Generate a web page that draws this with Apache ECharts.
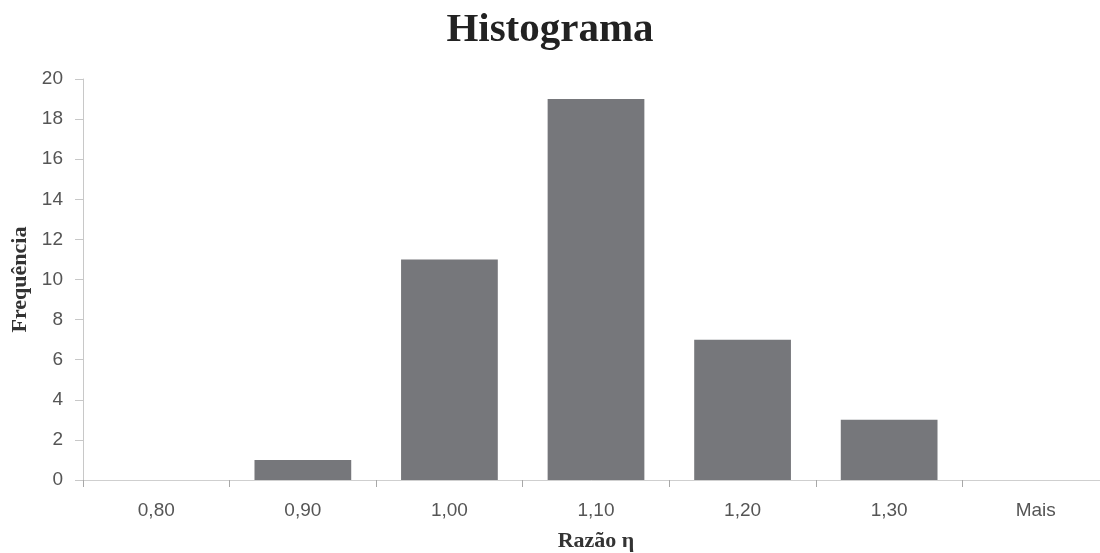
<!DOCTYPE html>
<html><head><meta charset="utf-8">
<script src="https://cdn.jsdelivr.net/npm/echarts@6/dist/echarts.min.js"></script>
<style>html,body{margin:0;padding:0;background:#fff}#c{width:1100px;height:553px}</style>
</head><body><div id="c"></div>
<script>
const categories = ['0,80','0,90','1,00','1,10','1,20','1,30','Mais'];
const frequencies = [0, 1, 11, 19, 7, 3, 0];
const yTicks = {min: 0, max: 20, interval: 2};
const titleText = 'Histograma';
const xName = 'Razão η';
const yName = 'Frequência';

const chart = echarts.init(document.getElementById('c'));
chart.setOption({
  backgroundColor: '#fff',
  animation: false,
  title: {
    text: titleText, left: 'center', top: 5,
    textStyle: {fontFamily: 'Liberation Serif', fontSize: 41, fontWeight: 'bold', color: '#222'}
  },
  grid: {left: 83, width: 1026, top: 79, height: 401, containLabel: false, outerBoundsMode: 'none'},
  xAxis: {
    type: 'category', data: categories,
    name: xName, nameLocation: 'middle', nameGap: 50,
    nameTextStyle: {fontFamily: 'Liberation Serif', fontSize: 22, fontWeight: 'bold', color: '#333'},
    axisLine: {lineStyle: {color: '#cfcfcf', width: 1}},
    axisTick: {show: true, length: 7, lineStyle: {color: '#a8a8a8'}},
    axisLabel: {fontFamily: 'Liberation Sans', fontSize: 19, color: '#555', margin: 21}
  },
  yAxis: {
    type: 'value', min: yTicks.min, max: yTicks.max, interval: yTicks.interval,
    name: yName, nameLocation: 'middle', nameGap: 52, nameRotate: 90,
    nameTextStyle: {fontFamily: 'Liberation Serif', fontSize: 22, fontWeight: 'bold', color: '#333'},
    axisLine: {show: true, lineStyle: {color: '#c8c8c8', width: 1}},
    axisTick: {show: true, length: 8, lineStyle: {color: '#c8c8c8'}},
    splitLine: {show: false},
    axisLabel: {fontFamily: 'Liberation Sans', fontSize: 19, color: '#555', margin: 20}
  },
  series: [{
    type: 'bar', data: frequencies,
    barCategoryGap: '34%',
    itemStyle: {color: '#76777b'}
  }]
});
</script></body></html>
